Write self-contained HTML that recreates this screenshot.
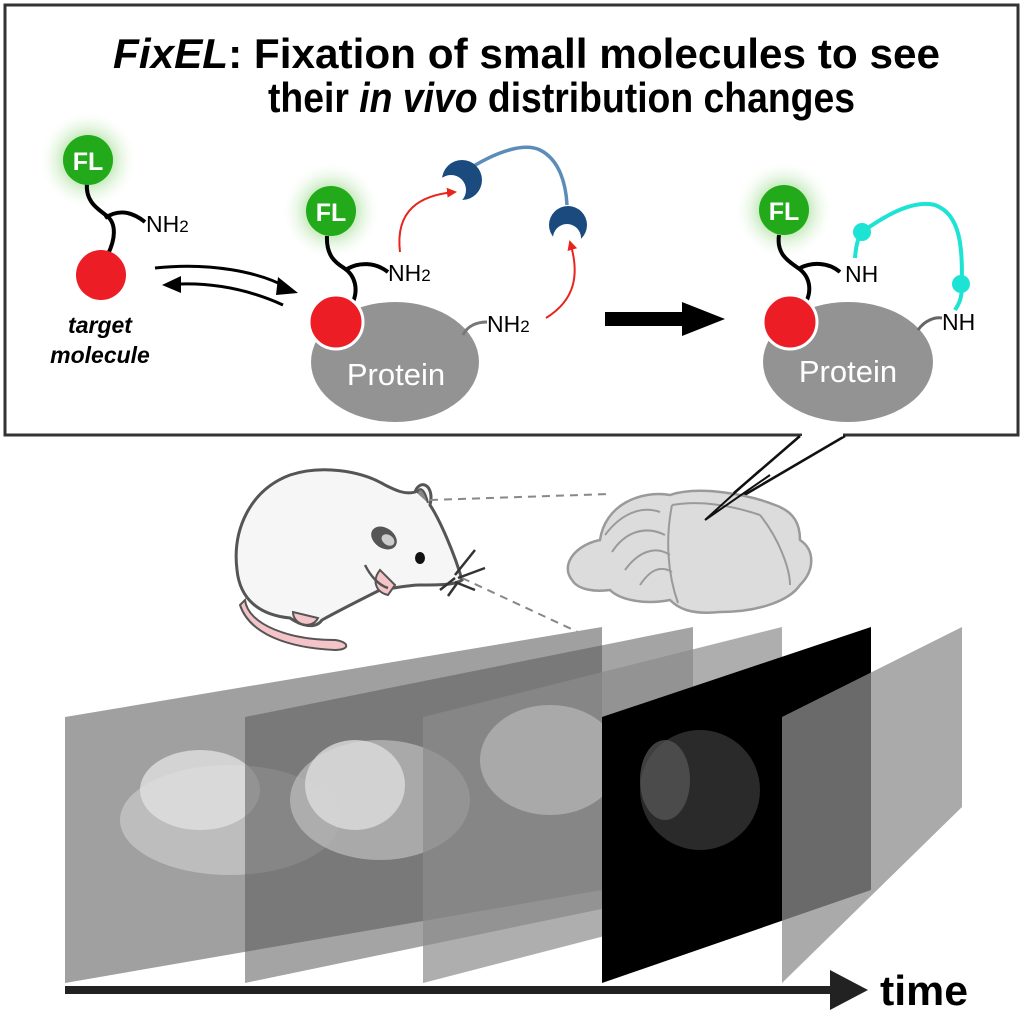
<!DOCTYPE html>
<html><head><meta charset="utf-8"><style>
html,body{margin:0;padding:0;background:#fff;}
svg{display:block;font-family:"Liberation Sans",Arial,sans-serif;}
</style></head><body>
<svg width="1024" height="1024" viewBox="0 0 1024 1024" xmlns="http://www.w3.org/2000/svg">
<defs>
<radialGradient id="glow"><stop offset="0.35" stop-color="#7fd06a" stop-opacity="0.7"/><stop offset="1" stop-color="#ffffff" stop-opacity="0"/></radialGradient>
<marker id="ra" markerWidth="10" markerHeight="10" refX="8" refY="5" orient="auto" markerUnits="userSpaceOnUse"><path d="M0,0 L10,5 L0,10 Z" fill="#e8241c"/></marker>
</defs>

<!-- top box -->
<rect x="5" y="5" width="1013" height="430" fill="#fff" stroke="#333" stroke-width="3"/>
<text x="113" y="68" font-size="42" font-weight="bold" textLength="827" lengthAdjust="spacingAndGlyphs"><tspan font-style="italic">FixEL</tspan>: Fixation of small molecules to see</text>
<text x="268" y="112" font-size="42" font-weight="bold" textLength="587" lengthAdjust="spacingAndGlyphs">their <tspan font-style="italic">in vivo</tspan> distribution changes</text>

<!-- left molecule -->
<circle cx="88" cy="160" r="50" fill="url(#glow)"/>
<path d="M87,183 C85,203 100,210 107,216 C117,224 115,240 108,254" fill="none" stroke="#000" stroke-width="4"/>
<path d="M105,218 C117,210 130,210 145,222" fill="none" stroke="#000" stroke-width="4"/>
<circle cx="88" cy="160" r="25" fill="#22aa1a"/>
<text x="88" y="170" font-size="25" font-weight="bold" fill="#fff" text-anchor="middle">FL</text>
<text x="146" y="232" font-size="23" fill="#000">NH<tspan font-size="17">2</tspan></text>
<circle cx="101" cy="275" r="25" fill="#ec1d24"/>
<text x="100" y="333" font-size="23" font-weight="bold" font-style="italic" text-anchor="middle">target</text>
<text x="100" y="363" font-size="23" font-weight="bold" font-style="italic" text-anchor="middle">molecule</text>

<!-- equilibrium arrows -->
<path d="M155,268 C210,262 260,272 288,288" fill="none" stroke="#000" stroke-width="3"/>
<path d="M278,277 L298,293 L276,295 Z" fill="#000"/>
<path d="M283,305 C250,290 215,283 180,284" fill="none" stroke="#000" stroke-width="3"/>
<path d="M162,285 L181,276 L181,293 Z" fill="#000"/>

<!-- middle -->
<ellipse cx="395" cy="362" rx="84" ry="60" fill="#939393"/>
<text x="396" y="385" font-size="31" fill="#fff" text-anchor="middle">Protein</text>
<path d="M463,335 C468,325 478,322 487,322" fill="none" stroke="#777" stroke-width="3"/>
<text x="487" y="332" font-size="23">NH<tspan font-size="17">2</tspan></text>
<circle cx="331" cy="211" r="50" fill="url(#glow)"/>
<path d="M327,236 C326,256 336,263 344,268 C356,276 358,290 353,302" fill="none" stroke="#000" stroke-width="4"/>
<path d="M347,269 C359,262 375,262 388,272" fill="none" stroke="#000" stroke-width="4"/>
<circle cx="331" cy="211" r="25" fill="#22aa1a"/>
<text x="331" y="221" font-size="25" font-weight="bold" fill="#fff" text-anchor="middle">FL</text>
<text x="388" y="281" font-size="23">NH<tspan font-size="17">2</tspan></text>
<circle cx="336" cy="322" r="27" fill="#ec1d24" stroke="#fff" stroke-width="3"/>
<!-- blue crosslinker -->
<path d="M472,167 C500,150 525,143 540,150 C560,160 566,185 567,205" fill="none" stroke="#5b8db8" stroke-width="3.5"/>
<circle cx="462" cy="180" r="20" fill="#1b4a7e"/>
<circle cx="451" cy="190" r="15" fill="#fff"/>
<circle cx="568" cy="225" r="19" fill="#1b4a7e"/>
<circle cx="567" cy="238" r="14" fill="#fff"/>
<path d="M400,252 C395,210 420,195 455,192" fill="none" stroke="#e8241c" stroke-width="2" marker-end="url(#ra)"/>
<path d="M546,318 C575,300 580,275 570,242" fill="none" stroke="#e8241c" stroke-width="2" marker-end="url(#ra)"/>

<!-- big arrow -->
<rect x="605" y="312" width="78" height="14" fill="#000"/>
<path d="M682,302 L725,319 L682,336 Z" fill="#000"/>

<!-- right -->
<ellipse cx="848" cy="362" rx="85" ry="60" fill="#939393"/>
<text x="848" y="382" font-size="31" fill="#fff" text-anchor="middle">Protein</text>
<path d="M918,330 C925,320 935,317 942,318" fill="none" stroke="#666" stroke-width="3"/>
<text x="942" y="330" font-size="23">NH</text>
<circle cx="784" cy="210" r="50" fill="url(#glow)"/>
<path d="M779,235 C776,255 790,262 798,268 C810,276 812,290 806,302" fill="none" stroke="#000" stroke-width="4"/>
<path d="M800,268 C812,262 828,262 840,272" fill="none" stroke="#000" stroke-width="4"/>
<circle cx="784" cy="210" r="25" fill="#22aa1a"/>
<text x="784" y="220" font-size="25" font-weight="bold" fill="#fff" text-anchor="middle">FL</text>
<text x="845" y="282" font-size="23">NH</text>
<circle cx="790" cy="322" r="27" fill="#ec1d24" stroke="#fff" stroke-width="3"/>
<path d="M855,258 C856,245 858,237 862,232 C890,212 915,200 935,205 C962,215 962,250 962,285 C962,300 958,305 955,310" fill="none" stroke="#1de3d4" stroke-width="4"/>
<circle cx="862" cy="232" r="9" fill="#1de3d4"/>
<circle cx="961" cy="284" r="9" fill="#1de3d4"/>

<!-- callout pointer -->
<path d="M800,436 L705,518 L845,436" fill="#fff" stroke="#111" stroke-width="2.5"/>
<line x1="802" y1="435" x2="843" y2="435" stroke="#fff" stroke-width="3"/>

<!-- mouse -->
<path d="M245,600 C248,625 290,640 335,640 C350,642 350,650 335,650 C290,648 250,635 240,605 Z" fill="#f4c4c8" stroke="#555" stroke-width="2"/>
<path d="M462,580 C455,555 440,520 430,505 C435,485 420,478 415,492 C405,495 395,490 385,485 C360,470 320,465 290,475 C250,490 232,530 237,570 C240,600 260,615 290,618 C300,625 315,630 322,620 C340,610 360,600 380,590 C395,588 410,585 420,585 C440,585 455,585 462,580 Z" fill="#f6f6f6" stroke="#555" stroke-width="3"/>
<path d="M428,503 C425,490 420,485 417,493" fill="#888" stroke="#555" stroke-width="2"/>
<path d="M293,612 C293,625 312,630 318,618 Z" fill="#f4c4c8" stroke="#555" stroke-width="2"/>
<path d="M380,570 C372,580 375,592 388,595 L395,585 Z" fill="#f4c4c8" stroke="#555" stroke-width="2"/>
<path d="M365,565 C370,575 378,585 388,588" fill="none" stroke="#555" stroke-width="2.5"/>
<ellipse cx="384" cy="538" rx="14" ry="10" fill="#555" transform="rotate(35 384 538)"/>
<ellipse cx="388" cy="540" rx="7" ry="5" fill="#ccc" transform="rotate(35 388 540)"/>
<ellipse cx="420" cy="558" rx="5" ry="6" fill="#111"/>
<path d="M455,575 L475,550 M458,578 L485,568 M455,582 L475,590 M440,590 L455,578 M448,596 L458,582" stroke="#333" stroke-width="2.5"/>
<path d="M430,500 L610,494" stroke="#888" stroke-width="2" stroke-dasharray="8,6"/>
<path d="M462,578 L595,640" stroke="#888" stroke-width="2" stroke-dasharray="8,6"/>
<!-- brain -->
<path d="M572,580 C560,565 575,545 600,540 C605,505 640,490 670,495 C700,485 750,495 775,505 C795,512 800,525 800,540 C815,550 815,570 800,585 C790,600 760,612 720,612 C690,615 678,608 670,600 C645,605 620,600 610,590 C595,592 578,590 572,580 Z" fill="#dcdcdc" stroke="#9a9a9a" stroke-width="2.5"/>
<path d="M605,535 C620,515 640,505 660,512 M612,552 C625,532 645,525 665,535 M625,570 C638,552 655,545 670,555 M640,585 C650,570 660,565 672,572 M672,505 C700,500 730,505 760,515 M672,505 C665,540 668,575 678,603 M760,515 C780,540 790,570 790,585" fill="none" stroke="#9a9a9a" stroke-width="2"/>
<path d="M760,470 L705,520 M770,475 L705,520" stroke="#111" stroke-width="2"/>

<!-- slices -->
<g>
<polygon points="65,717 602,627 602,890 65,983" fill="#a0a0a0"/>
<ellipse cx="230" cy="820" rx="110" ry="55" fill="#c4c4c4" opacity="0.8"/>
<ellipse cx="200" cy="790" rx="60" ry="40" fill="#e0e0e0" opacity="0.8"/>
<polygon points="245,717 693,627 693,890 245,983" fill="#5a5a5a" opacity="0.55"/>
<ellipse cx="380" cy="800" rx="90" ry="60" fill="#bdbdbd" opacity="0.7"/>
<ellipse cx="355" cy="785" rx="50" ry="45" fill="#dcdcdc" opacity="0.8"/>
<polygon points="423,717 782,627 782,890 423,983" fill="#8c8c8c" opacity="0.7"/>
<ellipse cx="550" cy="760" rx="70" ry="55" fill="#b8b8b8" opacity="0.7"/>
<polygon points="602,717 871,627 871,890 602,983" fill="#000"/>
<ellipse cx="700" cy="790" rx="60" ry="60" fill="#2a2a2a"/>
<ellipse cx="665" cy="780" rx="25" ry="40" fill="#5a5a5a" opacity="0.7"/>
<polygon points="782,717 962,627 962,807 782,983" fill="#8e8e8e" opacity="0.75"/>
</g>

<!-- time arrow -->
<rect x="65" y="986" width="775" height="8" fill="#222"/>
<path d="M830,970 L868,990 L830,1010 Z" fill="#222"/>
<text x="880" y="1005" font-size="42" font-weight="bold" textLength="88" lengthAdjust="spacingAndGlyphs">time</text>
</svg>
</body></html>
